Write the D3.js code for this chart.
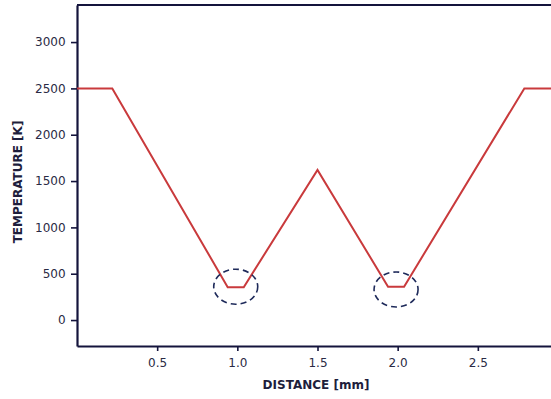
<!DOCTYPE html>
<html>
<head>
<meta charset="utf-8">
<script src="https://cdn.jsdelivr.net/npm/d3@7"></script>
<style>
  body { margin: 0; background: #fff; }
  text { font-family: "DejaVu Sans", sans-serif; }
</style>
</head>
<body>
<div id="chart"></div>
<script>
// Data
const distance = [0, 0.22, 0.94, 1.04, 1.5, 1.94, 2.04, 2.79, 3.0];
const temperature = [2500, 2500, 355, 355, 1620, 360, 360, 2500, 2500];
const xTicks = [0.5, 1.0, 1.5, 2.0, 2.5];
const yTicks = [0, 500, 1000, 1500, 2000, 2500, 3000];
// dashed circles marking the minima
const markX = [0.99, 1.99];
const markY = [360, 330];

const W = 551, H = 399;
const margin = { top: 5, left: 77, bottom: 53 };

const svg = d3.select("#chart").append("svg")
    .attr("width", W)
    .attr("height", H);

const x = d3.scaleLinear().domain([0, 3]).range([margin.left, margin.left + 481]);
const y = d3.scaleLinear().domain([-280, 3400]).range([H - margin.bottom, margin.top]);

const axisColor = "#14143c";

// x axis
const xAxis = svg.append("g")
    .attr("transform", `translate(0,${H - margin.bottom})`)
    .call(d3.axisBottom(x).tickValues(xTicks).tickFormat(d3.format(".1f")).tickSize(5).tickSizeOuter(0));

// y axis
const yAxis = svg.append("g")
    .attr("transform", `translate(${margin.left},0)`)
    .call(d3.axisLeft(y).tickValues(yTicks).tickFormat(d3.format("d")).tickSize(6).tickSizeOuter(0));

[xAxis, yAxis].forEach(g => {
    g.select(".domain").attr("stroke", axisColor).attr("stroke-width", 2.2);
    g.selectAll(".tick line").attr("stroke", axisColor).attr("stroke-width", 1.6);
    g.selectAll(".tick text").attr("fill", "#2a2a44").attr("font-size", 12);
});
xAxis.selectAll(".tick text").attr("dy", "1.1em");
yAxis.selectAll(".tick text").attr("dx", "-0.2em");

// top frame line
svg.append("line")
    .attr("x1", x(0)).attr("x2", W)
    .attr("y1", y(3400)).attr("y2", y(3400))
    .attr("stroke", axisColor)
    .attr("stroke-width", 2.2);

// axis titles
svg.append("text")
    .attr("x", 316).attr("y", 389)
    .attr("text-anchor", "middle")
    .attr("font-size", 12)
    .attr("font-weight", "bold")
    .attr("fill", "#1e1e3c")
    .text("DISTANCE [mm]");

svg.append("text")
    .attr("transform", "translate(22,182) rotate(-90)")
    .attr("text-anchor", "middle")
    .attr("font-size", 12)
    .attr("font-weight", "bold")
    .attr("fill", "#1e1e3c")
    .text("TEMPERATURE [K]");

// temperature profile
const points = distance.map((d, i) => [d, temperature[i]]);
const line = d3.line().x(d => x(d[0])).y(d => y(d[1]));

svg.append("path")
    .datum(points)
    .attr("fill", "none")
    .attr("stroke", "#c93a3c")
    .attr("stroke-width", 2)
    .attr("d", line);

// dashed ellipses
svg.selectAll(".mark")
    .data(markX)
    .enter()
    .append("ellipse")
    .attr("class", "mark")
    .attr("cx", d => x(d))
    .attr("cy", (d, i) => y(markY[i]))
    .attr("rx", 22)
    .attr("ry", 17.5)
    .attr("fill", "none")
    .attr("stroke", "#1e2a5a")
    .attr("stroke-width", 1.6)
    .attr("stroke-dasharray", "6,4");
</script>
</body>
</html>
